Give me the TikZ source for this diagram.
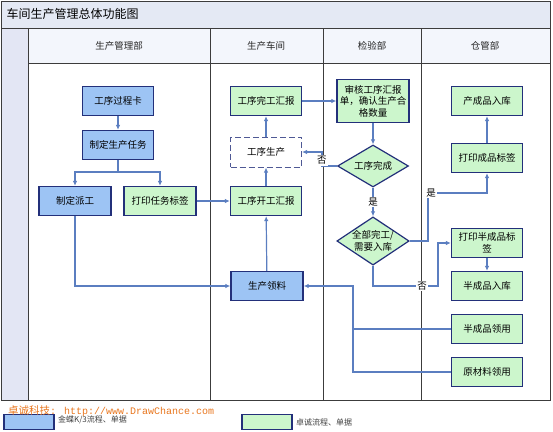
\documentclass[tikz,border=0pt]{standalone}
\usepackage{fontspec}
\setmainfont{Liberation Serif}
\newfontfamily\cjk{Noto Sans CJK SC}
\newfontfamily\wmmono{Liberation Mono}
\usetikzlibrary{arrows.meta, positioning, shapes.geometric}

\definecolor{titlebg}{HTML}{E4E9F4}
\definecolor{stripbg}{HTML}{E3E6F4}
\definecolor{headbg}{HTML}{F3F6FC}
\definecolor{laneline}{HTML}{3C3C3C}
\definecolor{kblue}{HTML}{9DC4F4}
\definecolor{zgreen}{HTML}{CCF6CC}
\definecolor{edge}{HTML}{23307A}
\definecolor{flow}{HTML}{5B7EC0}
\definecolor{mark}{HTML}{E8761E}

\begin{document}
\begin{tikzpicture}[
x=1pt, y=-1pt,
font=\cjk\fontsize{9.5}{11.5}\selectfont,
box/.style={rectangle, draw=edge, line width=1.3pt, minimum width=71pt, minimum height=29pt, inner sep=1pt, align=center},
kbox/.style={box, fill=kblue},
zbox/.style={box, fill=zgreen},
work/.style={box, draw=edge!80, fill=white, line width=1pt, dash pattern=on 6pt off 3pt},
test/.style={diamond, draw=edge, line width=1.2pt, fill=zgreen, aspect=1.5, inner sep=0pt, minimum width=71pt, minimum height=42pt, align=center},
arrow/.style={-{Latex[length=5pt,width=4.5pt]}, draw=flow, line width=1.2pt},
line/.style={draw=flow, line width=1.2pt},
lbl/.style={fill=white, inner sep=1pt, text=black},
head/.style={text=black!85}
]
\useasboundingbox (0,0) rectangle (553,431);

% lanes
\fill[titlebg] (1,1) rectangle (550,28);
\fill[stripbg] (1,28) rectangle (28,400);
\fill[headbg] (28,28) rectangle (550,63);
\draw[laneline, line width=0.8pt] (1,1) rectangle (550,400);
\draw[laneline, line width=0.8pt] (1,28) -- (550,28);
\draw[laneline, line width=0.8pt] (28,63) -- (550,63);
\foreach \x in {28,210,323,421}
  \draw[laneline, line width=1pt] (\x,28) -- (\x,400);

\node[anchor=west, font=\cjk\fontsize{12}{14}\selectfont] (title) at (3,14) {车间生产管理总体功能图};
\node[head] (h1) at (119,46) {生产管理部};
\node[head] (h2) at (266,46) {生产车间};
\node[head] (h3) at (372,46) {检验部};
\node[head] (h4) at (485,46) {仓管部};

% 生产管理部
\node[kbox] (card) at (118,101) {工序过程卡};
\node[kbox, below of=card, node distance=44pt] (task) {制定生产任务};
\node[kbox, minimum width=72pt] (dispatch) at (75,201) {制定派工};
\node[zbox, minimum width=72pt] (tasklbl) at (160,201) {打印任务标签};

% 生产车间
\node[zbox] (done) at (266,101) {工序完工汇报};
\node[work, minimum height=30pt] (prod) at (266,152) {工序生产};
\node[zbox] (start) at (266,201) {工序开工汇报};
\node[kbox, minimum width=72pt] (pick) at (267,286) {生产领料};

% 检验部
\node[zbox, minimum width=72pt, minimum height=43pt] (audit) at (373,101) {审核工序汇报\\单，确认生产合\\格数量};
\node[test] (chk) at (373,166) {工序完成};
\node[test, minimum height=47pt] (alldone) at (373,241) {全部完工/\\需要入库};

% 仓管部
\node[zbox] (finin) at (487,101) {产成品入库};
\node[zbox] (finlbl) at (487,158) {打印成品标签};
\node[zbox] (semilbl) at (487,243) {打印半成品标\\签};
\node[zbox, below of=semilbl, node distance=43pt] (semiin) {半成品入库};
\node[zbox] (semiuse) at (487,329) {半成品领用};
\node[zbox] (rawuse) at (487,372) {原材料领用};

\coordinate (fork) at (118,172);
\coordinate (yes) at (428,193);
\coordinate (no) at (438,286);
\coordinate (feed) at (353,286);

\draw[arrow] (card) -- (task);
\draw[line] (task) -- (fork);
\draw[arrow] (fork) -| (dispatch);
\draw[arrow] (fork) -| (tasklbl);
\draw[arrow] (tasklbl) -- (start);
\draw[arrow] (start) -- (prod);
\draw[arrow] (prod) -- (done);
\draw[arrow] (pick) -- (start);
\draw[arrow] (dispatch) |- (pick);
\draw[arrow] (done) -- (audit);
\draw[arrow] (audit) -- (chk);
\draw[arrow] (chk.west) -- ++(-15,0) |- node[lbl, pos=0.2] {否} (prod.east);
\draw[arrow] (chk) -- node[lbl] {是} (alldone);
\draw[arrow] (alldone.east) -| (yes) -| (finlbl);
\node[lbl] at ([xshift=3pt]yes) {是};
\draw[arrow] (finlbl) -- (finin);
\draw[arrow] (alldone) |- (no) |- (semilbl);
\node[lbl] at (422,286) {否};
\draw[arrow] (semilbl) -- (semiin);
\draw[line] (rawuse.west) -| (feed);
\draw[arrow] (semiuse.west) -| (feed) -- (pick.east);

% legend
\node[kbox, minimum width=50pt, minimum height=15pt] (lgk) at (29,422) {};
\node[anchor=west, font=\cjk\fontsize{8}{9}\selectfont, text=black!75] (lgktext) at ([yshift=2pt]lgk.east) {金蝶K/3流程、单据};
\node[zbox, minimum width=50pt, minimum height=15pt] (lgz) at (267,422) {};
\node[anchor=west, font=\cjk\fontsize{8}{9}\selectfont, text=black!75] (lgztext) at (lgz.east) {卓诚流程、单据};
\node[anchor=west, inner sep=0pt, text=mark, font=\cjk\fontsize{10.5}{12}\selectfont] (wm) at (8,411) {卓诚科技{\wmmono\fontsize{10}{12}\selectfont: http://www.DrawChance.com}};

\end{tikzpicture}
\end{document}
